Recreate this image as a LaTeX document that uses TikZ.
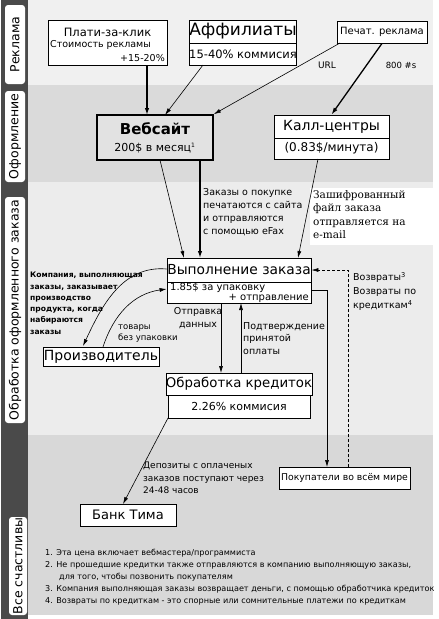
\documentclass[tikz,border=0pt]{standalone}
\usepackage{fontspec}
\setmainfont{DejaVu Sans}
\newfontfamily\slabfont{DejaVu Serif}
\usetikzlibrary{arrows.meta}
\definecolor{bandA}{HTML}{F0F0F0}
\definecolor{bandB}{HTML}{DADADA}
\definecolor{bandC}{HTML}{ECECEC}
\definecolor{bandD}{HTML}{D8D8D8}
\definecolor{sidedark}{HTML}{4A4A4A}
\definecolor{webfill}{HTML}{E2E2E2}
\newcommand{\fsz}[2]{\fontsize{#1}{#2}\selectfont}
\begin{document}
\begin{tikzpicture}[x=1pt,y=1pt,
  box/.style={draw, line width=0.8pt, fill=white, inner sep=0pt},
  txt/.style={inner sep=0pt, align=left},
  arr/.style={-{Latex[length=7pt,width=4pt]}, line width=0.6pt},
  tarr/.style={-{Latex[length=7pt,width=4.5pt]}, line width=1.3pt},
  sidelbl/.style={inner sep=0pt, rotate=90, font=\fsz{12.5}{14}}
]
\useasboundingbox (0,0) rectangle (439,-619);
% bands
\fill[white] (0,0) rectangle (439,-619);
\fill[bandA] (28,0) rectangle (433,-85);
\fill[bandB] (28,-85) rectangle (433,-182);
\fill[bandC] (28,-182) rectangle (433,-435);
\fill[bandD] (28,-435) rectangle (433,-615);
\fill[white] (310,-188) rectangle (433,-245);
% sidebar
\fill[sidedark] (1,0) rectangle (28,-619);
\fill[white, rounded corners=3pt] (5,-5) rectangle (25,-84);
\fill[white, rounded corners=3pt] (5,-91) rectangle (25,-182);
\fill[white, rounded corners=3pt] (5,-197) rectangle (25,-423);
\fill[white, rounded corners=3pt] (9,-517) rectangle (27,-615);
\node[sidelbl] (s1) at (15,-44.5) {Реклама};
\node[sidelbl] (s2) at (15,-136.5) {Оформление};
\node[sidelbl] (s3) at (15,-310) {Обработка оформленного заказа};
\node[sidelbl] (s4) at (18,-566) {Все счастливы};

% boxes
\node[box, minimum width=119pt, minimum height=45pt] (ppc) at (107.5,-42.5) {};
\node[txt, font=\fsz{11.5}{13}] (ppct) at (107.5,-32) {Плати-за-клик};
\node[txt, font=\fsz{9.5}{11}, anchor=west] (ppcs) at (50,-45) {Стоимость рекламы};
\node[txt, font=\fsz{9.5}{11}, anchor=east] (ppcp) at (165,-58) {+15-20\%};

\node[box, minimum width=106pt, minimum height=23pt, font=\fsz{17}{19}] (aff) at (243,-31.5) {Аффилиаты};
\node[box, minimum width=106pt, minimum height=22pt, font=\fsz{11.5}{13}] (affb) at (243,-54) {15-40\% коммисия};

\node[box, minimum width=90pt, minimum height=22pt, font=\fsz{10}{12}] (print) at (382,-32) {Печат. реклама};

\node[box, fill=webfill, line width=1.6pt, minimum width=116pt, minimum height=45pt] (web) at (155,-137.5) {};
\node[txt, font=\bfseries\fsz{15}{17}] (webt) at (155,-129) {Вебсайт};
\node[txt, font=\fsz{11}{13}] (webp) at (155,-148) {200\$ в месяц\textsuperscript{\fsz{6}{6}1}};

\node[box, minimum width=115pt, minimum height=23pt, font=\fsz{14}{16}] (call) at (331.5,-126.5) {Калл-центры};
\node[box, minimum width=115pt, minimum height=21pt, font=\fsz{12}{14}] (callb) at (331.5,-148.5) {(0.83\$/минута)};

\node[box, minimum width=144pt, minimum height=24pt, font=\fsz{13.8}{16}] (vyp) at (239,-270) {Выполнение заказа};
\node[box, minimum width=144pt, minimum height=21pt] (vypb) at (239,-292.5) {};
\node[txt, font=\fsz{10}{12}, anchor=west] (vypp) at (170,-287.5) {1.85\$ за упаковку};
\node[txt, font=\fsz{10}{12}, anchor=east] (vypo) at (309,-298) {+ отправление};

\node[box, minimum width=116pt, minimum height=19pt, font=\fsz{14}{16}] (prod) at (101,-356.5) {Производитель};

\node[box, minimum width=142pt, minimum height=22pt, font=\fsz{13.3}{16}] (obr) at (239,-384) {Обработка кредиток};
\node[box, minimum width=142pt, minimum height=23pt, font=\fsz{11}{13}] (obrb) at (239,-406.5) {2.26\% коммисия};

\node[box, minimum width=131pt, minimum height=22pt, font=\fsz{9.3}{12}] (buy) at (344.5,-478) {Покупатели во всём мире};
\node[box, minimum width=96pt, minimum height=22pt, font=\fsz{13}{15}] (bank) at (128,-515) {Банк Тима};

% connector anchors
\coordinate (w1) at (147,-115);
\coordinate (w2) at (165,-115);
\coordinate (wb1) at (160,-160);
\coordinate (wb2) at (200,-160);
\coordinate (v1) at (184,-258);
\coordinate (v2) at (200,-258);
\coordinate (v3) at (298,-258);

% connectors
\draw[tarr] (ppc.south -| w1) -- (w1);
\draw[arr] (203,-65) -- (w2);
\draw[arr] (340,-43) -- (web.north east);
\draw[tarr] (print.south) -- (call.north);
\draw[arr] (wb1) -- (v1);
\draw[tarr] (wb2) -- (v2);
\draw[arr] (318,-159) -- (v3);
\draw[arr] (vyp.west |- 0,-269) to[out=175,in=65] (83,-346);
\draw[arr] (103,-347) to[out=72,in=188] (vypb.west |- 0,-289);
\draw[arr] (221,-303) -- (221,-373);
\draw[arr] (241,-373) -- (241,-303);
\draw[arr] (vypb.east |- 0,-290) -| (327,-467);
\draw[arr, dashed, dash pattern=on 3pt off 2pt] (348,-467) |- (vyp.east |- 0,-270);
\draw[arr] (168,-418) -- (123,-504);

% labels
\node[txt, font=\fsz{9}{11}] (url) at (327,-65) {URL};
\node[txt, font=\fsz{8.5}{10}] (n800) at (401,-65) {800 \#s};
\node[txt, font=\fsz{9.5}{13}, anchor=north west] (efax) at (203,-188) {Заказы о покупке\\печатаются с сайта\\и отправляются\\с помощью eFax};
\node[txt, font=\slabfont\fsz{10.5}{13.5}, anchor=north west] (enc) at (313,-190) {Зашифрованный\\файл заказа\\отправляется на\\e-mail};
\node[txt, font=\bfseries\fsz{7.6}{11.3}, anchor=north west] (comp) at (30,-272) {Компания, выполняющая\\заказы, заказывает\\производство\\продукта, когда\\набираются\\заказы};
\node[txt, font=\fsz{8.5}{11}, anchor=north west] (goods) at (118,-325) {товары\\без упаковки};
\node[txt, font=\fsz{9.5}{13}, align=center, anchor=north] (send) at (198,-307) {Отправка\\данных};
\node[txt, font=\fsz{9.5}{12.5}, anchor=north west] (conf) at (243,-322) {Подтверждение\\принятой\\оплаты};
\node[txt, font=\fsz{9.5}{14}, anchor=north west] (ret) at (353,-272) {Возвраты\textsuperscript{3}\\Возвраты по\\кредиткам\textsuperscript{4}};
\node[txt, font=\fsz{9}{12.5}, anchor=north west] (dep) at (143,-462) {Депозиты с оплаченых\\заказов поступают через\\24-48 часов};
\node[txt, font=\fsz{8.1}{12}, anchor=north west] (notes) at (45,-549) {1. Эта цена включает вебмастера/программиста\\2. Не прошедшие кредитки также отправляются в компанию выполняющую заказы,\\\hspace*{14pt}для того, чтобы позвонить покупателям\\3. Компания выполняющая заказы возвращает деньги, с помощью обработчика кредиток\\4. Возвраты по кредиткам - это спорные или сомнительные платежи по кредиткам};
\end{tikzpicture}
\end{document}
